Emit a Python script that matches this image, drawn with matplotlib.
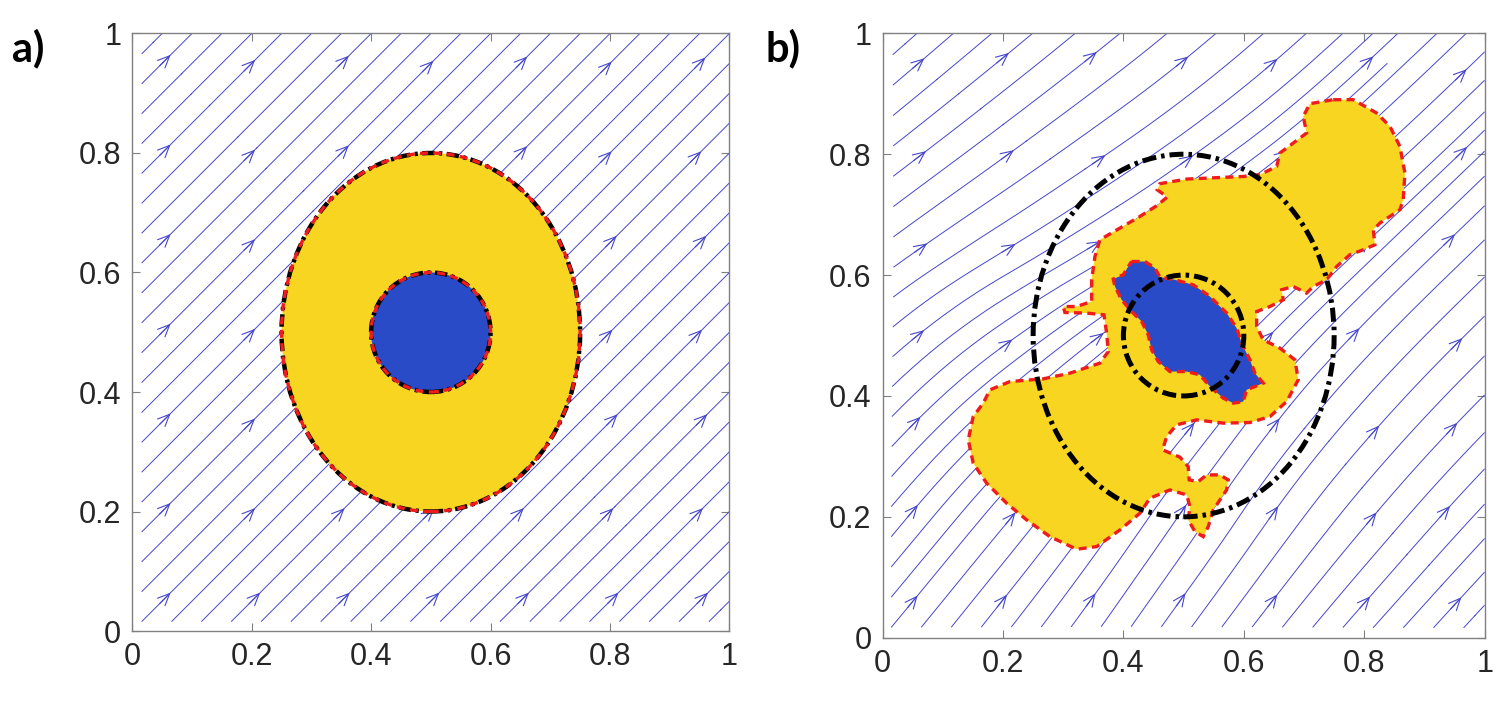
import numpy as np
import matplotlib
matplotlib.use("Agg")
import matplotlib.pyplot as plt
from matplotlib.patches import Ellipse, Circle, Polygon

plt.rcParams["font.family"] = ["Liberation Sans", "DejaVu Sans"]

TICKS = [0, 0.2, 0.4, 0.6, 0.8, 1.0]
TICK_LABELS = ["0", "0.2", "0.4", "0.6", "0.8", "1"]

# reference inclusion outline (both panels)
CENTER = (0.5, 0.5)
OUTER_W, OUTER_H = 0.5, 0.6
INNER_D = 0.2

# panel a: uniform flow direction in degrees
FLOW_ANGLE_A = 45.0

# panel b: flow direction (deg) read on a coarse grid, rows go from y=0 to y=1
FLOW_ANGLE_B = [
    [50, 52, 55, 52, 48, 47],
    [50, 50, 55, 56, 50, 47],
    [45, 40, 45, 52, 48, 45],
    [36, 30, 30, 40, 44, 44],
    [38, 36, 34, 36, 42, 44],
    [42, 40, 39, 41, 43, 44],
]

# where streamslice put its arrows (both axes)
ARROW_POS = [0.05, 0.2, 0.35, 0.5, 0.65, 0.8, 0.95]

# panel b: recovered high-k region (yellow) and inner core (blue)
YELLOW_X = [0.7485, 0.7817, 0.8206, 0.8427, 0.8593, 0.8676, 0.8648, 0.8593, 0.8261, 0.8150,
            0.8178, 0.7983, 0.7762, 0.7542, 0.7375, 0.7153, 0.7043, 0.6821, 0.6628, 0.6655,
            0.6434, 0.6213, 0.6213, 0.6322, 0.6600, 0.6849, 0.6904, 0.6711, 0.6434, 0.6101,
            0.5658, 0.5216, 0.4884, 0.4718, 0.4651, 0.4939, 0.5076, 0.5093, 0.5243, 0.5382,
            0.5603, 0.5741, 0.5714, 0.5492, 0.5409, 0.5326, 0.5188, 0.5076, 0.5105, 0.5050,
            0.4772, 0.4440, 0.4274, 0.3942, 0.3555, 0.3223, 0.2779, 0.2392, 0.2060, 0.1728,
            0.1505, 0.1422, 0.1505, 0.1671, 0.1782, 0.2115, 0.2668, 0.3111, 0.3609, 0.3748,
            0.3721, 0.3676, 0.3389, 0.3028, 0.3000, 0.3223, 0.3472, 0.3472, 0.3527, 0.3609,
            0.3942, 0.4274, 0.4551, 0.4728, 0.4561, 0.4606, 0.5050, 0.5990, 0.6268, 0.6545,
            0.6600, 0.6821, 0.7043, 0.6987, 0.7098]
YELLOW_Y = [0.8902, 0.8902, 0.8682, 0.8460, 0.8129, 0.7689, 0.7247, 0.7081, 0.6861, 0.6750,
            0.6502, 0.6419, 0.6336, 0.6142, 0.5922, 0.5811, 0.5702, 0.5811, 0.5757, 0.5591,
            0.5480, 0.5397, 0.5149, 0.4929, 0.4791, 0.4598, 0.4267, 0.3907, 0.3659, 0.3560,
            0.3550, 0.3604, 0.3522, 0.3328, 0.3108, 0.2987, 0.2831, 0.2611, 0.2583, 0.2694,
            0.2694, 0.2611, 0.2445, 0.2114, 0.1838, 0.1672, 0.1755, 0.1949, 0.2169, 0.2363,
            0.2445, 0.2308, 0.2060, 0.1783, 0.1507, 0.1464, 0.1672, 0.1949, 0.2225, 0.2556,
            0.2887, 0.3273, 0.3659, 0.3881, 0.4101, 0.4238, 0.4283, 0.4377, 0.4543, 0.4735,
            0.5040, 0.5343, 0.5371, 0.5381, 0.5480, 0.5480, 0.5563, 0.5922, 0.6308, 0.6584,
            0.6778, 0.6970, 0.7147, 0.7291, 0.7412, 0.7512, 0.7589, 0.7632, 0.7661, 0.7798,
            0.8020, 0.8185, 0.8351, 0.8626, 0.8836]

BLUE_X = [0.4136, 0.4357, 0.4523, 0.4606, 0.4855, 0.5159, 0.5437, 0.5714, 0.5880, 0.5963,
          0.6101, 0.6184, 0.6322, 0.6184, 0.6047, 0.5990, 0.5824, 0.5658, 0.5437, 0.5271,
          0.5050, 0.4772, 0.4578, 0.4468, 0.4412, 0.4302, 0.4136, 0.3970, 0.3859, 0.3831,
          0.3997, 0.4080]
BLUE_Y = [0.6225, 0.6225, 0.6116, 0.5967, 0.5922, 0.5839, 0.5646, 0.5371, 0.5123, 0.4874,
          0.4598, 0.4377, 0.4212, 0.4156, 0.4101, 0.3907, 0.3881, 0.3964, 0.4156, 0.4349,
          0.4404, 0.4404, 0.4570, 0.4763, 0.5012, 0.5232, 0.5397, 0.5591, 0.5811, 0.5934,
          0.6005, 0.6142]

YELLOW = "#F7D521"
BLUE = "#2A4BC8"
STREAM = "#4646CC"
RED = "#EE1C1C"
FRAME = "#808080"

DASH_RED = (0, (2.4, 1.6))
DASH_DOT = (0, (2.8, 1.0, 0.7, 1.0))


def style_axes(ax):
    ax.set_xlim(0, 1)
    ax.set_ylim(0, 1)
    ax.set_xticks(TICKS)
    ax.set_yticks(TICKS)
    ax.set_xticklabels(TICK_LABELS)
    ax.set_yticklabels(TICK_LABELS)
    ax.tick_params(direction="in", top=True, right=True, length=6, width=0.8,
                   color=FRAME, labelsize=22, labelcolor="#262626", pad=8)
    for s in ax.spines.values():
        s.set_color(FRAME)
        s.set_linewidth(1.0)


def draw_streams(ax, angles, broken):
    ang = np.radians(np.asarray(angles, dtype=float))
    n = ang.shape[0]
    g = np.linspace(0, 1, n)
    u, v = np.cos(ang), np.sin(ang)
    step = 0.05
    left = [(0.0, y) for y in np.arange(0, 1, step)]
    bottom = [(x, 0.0) for x in np.arange(step, 1, step)]
    seeds = np.array(left + bottom)
    # broken lines stop where they crowd into a neighbour (like streamslice)
    sp = ax.streamplot(g, g, u, v, start_points=seeds, integration_direction="forward",
                       broken_streamlines=broken, arrowstyle="-", color=STREAM,
                       linewidth=0.7, density=1.5, minlength=0.05, zorder=2)
    # arrows sit on the drawn lines, close to the streamslice lattice
    mids, dirs = [], []
    for seg in sp.lines.get_segments():
        seg = np.asarray(seg)
        if len(seg) < 2:
            continue
        mids.append(0.5 * (seg[1:] + seg[:-1]))
        dirs.append(seg[1:] - seg[:-1])
    mids = np.vstack(mids)
    dirs = np.vstack(dirs)
    for xa in ARROW_POS:
        for ya in ARROW_POS:
            d = np.hypot(mids[:, 0] - xa, mids[:, 1] - ya)
            i = int(np.argmin(d))
            nrm = np.hypot(*dirs[i])
            if d[i] > 0.035 or nrm == 0:
                continue
            t = dirs[i] / nrm
            p = mids[i]
            ax.annotate("", xy=p + 0.013 * t, xytext=p - 0.013 * t,
                        arrowprops=dict(arrowstyle="->,head_length=0.85,head_width=0.38",
                                        color=STREAM, lw=0.8, shrinkA=0, shrinkB=0),
                        zorder=2.5)


def outline(ax, shape, color, lw, ls, z):
    shape.set_fill(False)
    shape.set_edgecolor(color)
    shape.set_linewidth(lw)
    shape.set_linestyle(ls)
    shape.set_zorder(z)
    ax.add_patch(shape)


fig = plt.figure(figsize=(15.08, 7.11), dpi=100)
ax_a = fig.add_axes([0.0877, 0.1125, 0.396, 0.8404])
ax_b = fig.add_axes([0.5853, 0.1031, 0.3992, 0.850])

# ---- panel a: true field
draw_streams(ax_a, np.full((2, 2), FLOW_ANGLE_A), broken=False)
ax_a.add_patch(Ellipse(CENTER, OUTER_W, OUTER_H, facecolor=YELLOW, edgecolor="none", zorder=3))
ax_a.add_patch(Circle(CENTER, INNER_D / 2, facecolor=BLUE, edgecolor="none", zorder=4))
outline(ax_a, Ellipse(CENTER, OUTER_W, OUTER_H), "black", 3.2, DASH_DOT, 5)
outline(ax_a, Circle(CENTER, INNER_D / 2), "black", 3.2, DASH_DOT, 5)
outline(ax_a, Ellipse(CENTER, OUTER_W, OUTER_H), RED, 2.4, DASH_RED, 6)
outline(ax_a, Circle(CENTER, INNER_D / 2), RED, 2.4, DASH_RED, 6)
style_axes(ax_a)

# ---- panel b: recovered field
draw_streams(ax_b, FLOW_ANGLE_B, broken=True)
yel = np.column_stack([YELLOW_X, YELLOW_Y])
blu = np.column_stack([BLUE_X, BLUE_Y])
ax_b.add_patch(Polygon(yel, closed=True, facecolor=YELLOW, edgecolor="none", zorder=3))
ax_b.add_patch(Polygon(blu, closed=True, facecolor=BLUE, edgecolor="none", zorder=4))
outline(ax_b, Polygon(yel, closed=True), RED, 2.4, DASH_RED, 5)
outline(ax_b, Polygon(blu, closed=True), RED, 2.4, DASH_RED, 5)
outline(ax_b, Ellipse(CENTER, OUTER_W, OUTER_H), "black", 3.6, DASH_DOT, 6)
outline(ax_b, Circle(CENTER, INNER_D / 2), "black", 3.6, DASH_DOT, 6)
style_axes(ax_b)

fig.text(12 / 1508, 1 - 61 / 711, "a)", fontsize=30, fontweight="bold",
         family=["Lato", "DejaVu Sans"], va="baseline")
fig.text(766 / 1508, 1 - 61 / 711, "b)", fontsize=30, fontweight="bold",
         family=["Lato", "DejaVu Sans"], va="baseline")

fig.savefig("out.png", dpi=100)
